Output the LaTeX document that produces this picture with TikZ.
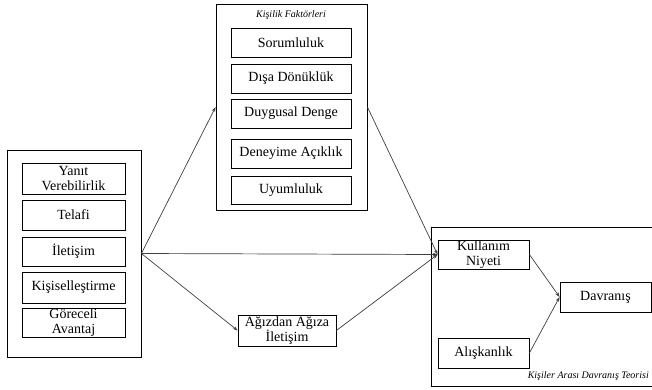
\documentclass[tikz,border=0pt]{standalone}
\usepackage{fontspec}
\setmainfont{Liberation Serif}
\usetikzlibrary{arrows.meta}
\begin{document}
\begin{tikzpicture}[x=1pt,y=-1pt,
  item/.style={draw=black,line width=0.8pt,inner sep=0pt,align=center,
    font=\fontsize{14}{15}\selectfont},
  captext/.style={inner sep=0pt,font=\fontsize{10}{11}\selectfont\itshape},
  arr/.style={draw=black!75,line width=0.7pt,-{Stealth[length=5pt,width=3.5pt]}}]
\useasboundingbox[fill=white] (0,0) rectangle (652,389);
\clip (0,0) rectangle (652,389);
% outer boxes
\node[draw=black,line width=0.8pt,minimum width=134pt,minimum height=207pt,inner sep=0pt] (left) at (74,253.5) {};
\node[draw=black,line width=0.8pt,minimum width=151pt,minimum height=206pt,inner sep=0pt] (mid) at (291.5,107) {};
\node[draw=black,line width=0.8pt,minimum width=229pt,minimum height=159pt,inner sep=0pt] (right) at (545.5,306.5) {};
% left items
\node[item,minimum width=103pt,minimum height=31pt] (yanit) at (73.5,178.5) {Yanıt\\Verebilirlik};
\node[item,minimum width=103pt,minimum height=30pt] (telafi) at (73.5,215) {Telafi};
\node[item,minimum width=103pt,minimum height=29pt] (ilet) at (73.5,251.5) {İletişim};
\node[item,minimum width=103pt,minimum height=31pt] (kisi) at (73.5,287.5) {Kişiselleştirme};
\node[item,minimum width=103pt,minimum height=29pt] (gore) at (73.5,322.5) {Göreceli\\Avantaj};
% middle items
\node[captext] (kftitle) at (291,15) {Kişilik Faktörleri};
\node[item,minimum width=120pt,minimum height=29pt] (soru) at (291,42.5) {Sorumluluk};
\node[item,minimum width=120pt,minimum height=29pt] (disa) at (291,78.5) {Dışa Dönüklük};
\node[item,minimum width=120pt,minimum height=29pt] (duyg) at (291,113.5) {Duygusal Denge};
\node[item,minimum width=120pt,minimum height=29pt] (dene) at (291,153.5) {Deneyime Açıklık};
\node[item,minimum width=120pt,minimum height=28pt] (uyum) at (291,190) {Uyumluluk};
% word of mouth
\node[item,minimum width=98pt,minimum height=31pt] (agiz) at (287,330.5) {Ağızdan Ağıza\\İletişim};
% right items
\node[item,minimum width=91pt,minimum height=29pt] (kull) at (483.5,254.5) {Kullanım\\Niyeti};
\node[item,minimum width=91pt,minimum height=30pt] (dav) at (605.5,297) {Davranış};
\node[item,minimum width=91pt,minimum height=30pt] (alis) at (483.5,353) {Alışkanlık};
\node[captext,anchor=base east] (kdtitle) at (649,378) {Kişiler Arası Davranış Teorisi};
% arrows
\draw[arr] (left.east) -- (mid.west);
\draw[arr] (left.east) -- (kull.west);
\draw[arr] (left.east) -- (agiz.west);
\draw[arr] (agiz.east) -- (kull.west);
\draw[arr] (mid.east) -- (kull.west);
\draw[arr] (kull.east) -- (dav.west);
\draw[arr] (alis.east) -- (dav.west);
\end{tikzpicture}
\end{document}
